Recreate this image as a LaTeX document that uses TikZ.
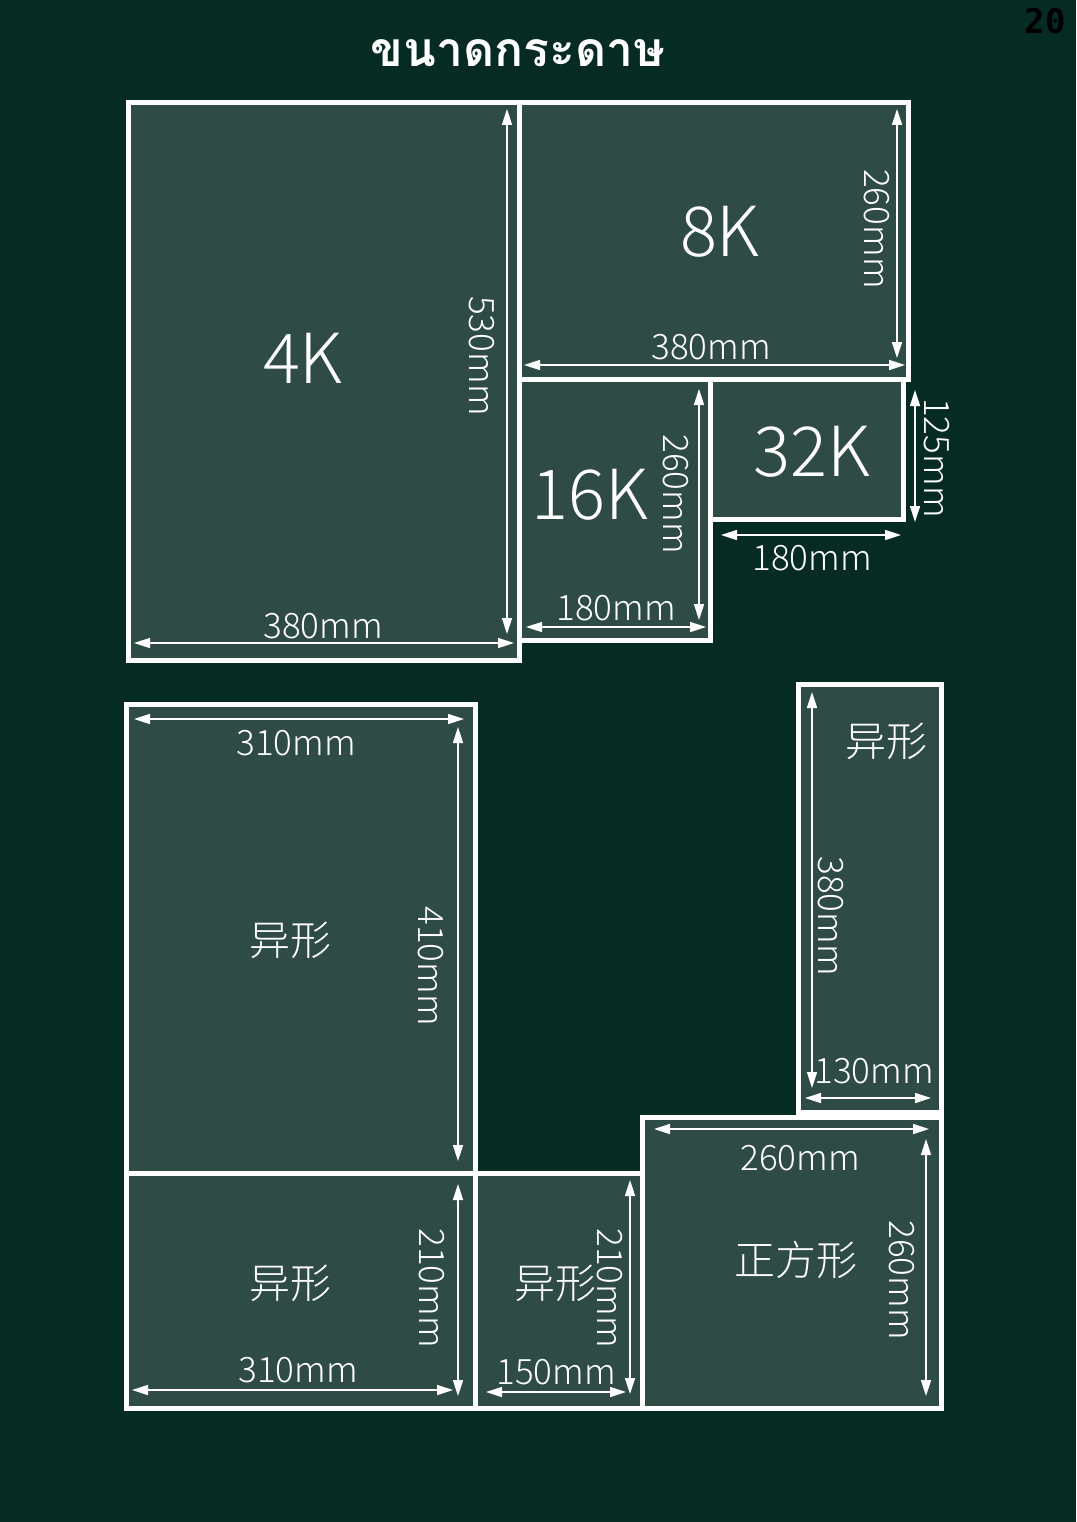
\documentclass[tikz,border=0pt]{standalone}
\usepackage{fontspec}
\setmainfont{Noto Sans CJK SC}[UprightFont={* Light}]
\newfontfamily\thaifont[Script=Thai]{Loma}
\newfontfamily\pagefont{DejaVu Sans Mono}
\usetikzlibrary{arrows.meta}
\definecolor{board}{HTML}{062B23}
\definecolor{sheet}{HTML}{2F4B45}

\tikzset{
  sheetbox/.style={draw=white, line width=5pt, fill=sheet},
  dimline/.style={white, line width=1.6pt, {Triangle[length=16pt,width=10pt]}-{Triangle[length=16pt,width=10pt]}},
  dimtext/.style={text=white, font=\fontsize{35}{36}\selectfont, inner sep=0pt},
  bigtext/.style={text=white, font=\fontsize{69}{70}\selectfont, inner sep=0pt},
  cjktext/.style={text=white, font=\fontsize{41}{42}\selectfont, inner sep=0pt},
}

\begin{document}
\begin{tikzpicture}[x=1pt, y=-1pt]
\fill[board] (0,0) rectangle (1076,1522);
\useasboundingbox (0,0) rectangle (1076,1522);

% title and page number
\node[text=white, font=\thaifont\bfseries\fontsize{48}{50}\selectfont, inner sep=0pt] (title) at (518,53) {ขนาดกระดาษ};
\node[text=black, font=\pagefont\bfseries\fontsize{34}{36}\selectfont, inner sep=0pt] (page) at (1045,21) {20};

% upper group
\draw[sheetbox] (128,103) rectangle (519,660);
\draw[sheetbox] (519,103) rectangle (908,379);
\draw[sheetbox] (519,379) rectangle (710,640);
\draw[sheetbox] (710,379) rectangle (903,519);

\node[bigtext] (k4) at (303,358) {4K};
\draw[dimline] (507,109) -- (507,634);
\node[dimtext, rotate=-90] (k4h) at (482,356) {530mm};
\draw[dimline] (134,643) -- (514,643);
\node[dimtext] (k4w) at (323,626) {380mm};

\node[bigtext] (k8) at (720,232) {8K};
\draw[dimline] (897,109) -- (897,358);
\node[dimtext, rotate=-90] (k8h) at (877,229) {260mm};
\draw[dimline] (524,365) -- (905,365);
\node[dimtext] (k8w) at (711,347) {380mm};

\node[bigtext] (k16) at (590,495) {16K};
\draw[dimline] (699,389) -- (699,620);
\node[dimtext, rotate=-90] (k16h) at (676,494) {260mm};
\draw[dimline] (526,627) -- (706,627);
\node[dimtext] (k16w) at (616,608) {180mm};

\node[bigtext] (k32) at (812,452) {32K};
\draw[dimline] (915,390) -- (915,522);
\node[dimtext, rotate=-90] (k32h) at (937,458) {125mm};
\draw[dimline] (721,535) -- (901,535);
\node[dimtext] (k32w) at (812,558) {180mm};

% lower group
\draw[sheetbox] (126,704) rectangle (475,1173);
\draw[sheetbox] (126,1173) rectangle (475,1408);
\draw[sheetbox] (475,1173) rectangle (642,1408);
\draw[sheetbox] (642,1117) rectangle (941,1408);
\draw[sheetbox] (798,684) rectangle (941,1112);

\node[cjktext] (odd1) at (290,940) {异形};
\draw[dimline] (134,719) -- (464,719);
\node[dimtext] (odd1w) at (296,743) {310mm};
\draw[dimline] (458,727) -- (458,1161);
\node[dimtext, rotate=-90] (odd1h) at (431,966) {410mm};

\node[cjktext] (odd2) at (290,1283) {异形};
\draw[dimline] (458,1184) -- (458,1396);
\node[dimtext, rotate=-90] (odd2h) at (432,1288) {210mm};
\draw[dimline] (132,1390) -- (453,1390);
\node[dimtext] (odd2w) at (298,1370) {310mm};

\node[cjktext] (odd3) at (555,1283) {异形};
\draw[dimline] (630,1180) -- (630,1394);
\node[dimtext, rotate=-90] (odd3h) at (610,1288) {210mm};
\draw[dimline] (486,1392) -- (626,1392);
\node[dimtext] (odd3w) at (556,1372) {150mm};

\node[cjktext] (square) at (796,1260) {正方形};
\draw[dimline] (654,1129) -- (929,1129);
\node[dimtext] (squarew) at (800,1158) {260mm};
\draw[dimline] (926,1139) -- (926,1396);
\node[dimtext, rotate=-90] (squareh) at (902,1280) {260mm};

\node[cjktext] (odd4) at (886,741) {异形};
\draw[dimline] (812,692) -- (812,1088);
\node[dimtext, rotate=-90] (odd4h) at (831,916) {380mm};
\draw[dimline] (805,1098) -- (931,1098);
\node[dimtext] (odd4w) at (874,1071) {130mm};
\end{tikzpicture}
\end{document}
